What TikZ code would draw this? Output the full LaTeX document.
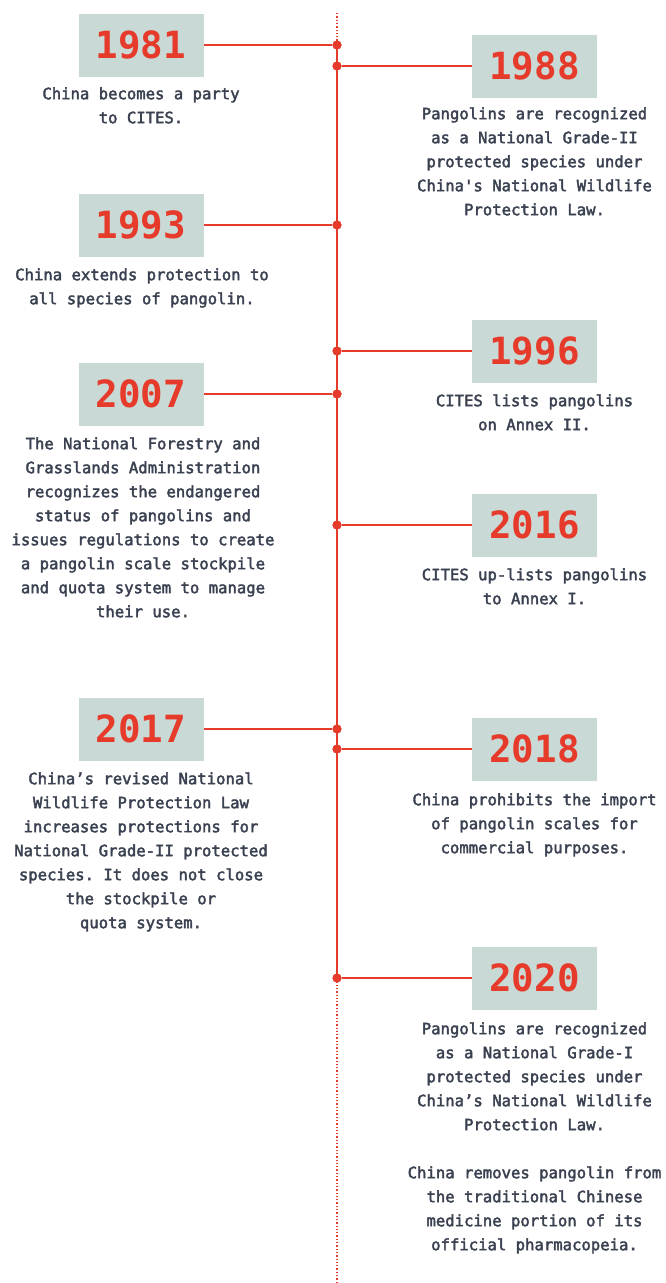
\documentclass[tikz,border=0pt]{standalone}
\usepackage{fontspec}
\newfontfamily\descface[FakeBold=2.5]{DejaVu Sans Mono}
\newfontfamily\yearface{DejaVu Sans Mono Bold}
\definecolor{tred}{HTML}{E63A2B}
\definecolor{boxc}{HTML}{C9DAD6}
\definecolor{ink}{HTML}{3A4150}
\begin{document}
\frenchspacing
\begin{tikzpicture}[x=1pt,y=-1pt,
  yearbox/.style={fill=boxc, minimum width=125pt, minimum height=63pt, inner sep=0pt,
    text=tred, font=\yearface\fontsize{37.5}{40}\selectfont},
  desc/.style={align=center, text=ink, inner sep=0pt, anchor=north,
    font=\descface\fontsize{15.6}{24}\selectfont},
  conn/.style={draw=tred, line width=2pt},
  dotline/.style={draw=tred, line width=1.3pt, dotted},
  tdot/.style={circle, fill=tred, inner sep=0pt, minimum size=9pt}]
\useasboundingbox (0,0) rectangle (666,1283);
\newcommand\fl{\rule{0pt}{16pt}}
% spine ends
\coordinate (top) at (337,13);
\coordinate (bot) at (337,1283);
% dots
\node[tdot] (d1981) at (337,45) {};
\node[tdot] (d1988) at (337,66) {};
\node[tdot] (d1993) at (337,225) {};
\node[tdot] (d1996) at (337,351) {};
\node[tdot] (d2007) at (337,394) {};
\node[tdot] (d2016) at (337,525) {};
\node[tdot] (d2017) at (337,729) {};
\node[tdot] (d2018) at (337,749) {};
\node[tdot] (d2020) at (337,978) {};
% spine
\draw[dotline] (top) -- (d1981.center);
\draw[conn] (d1981.center) -- (d2020.center);
\draw[dotline] (d2020.center) -- (bot);
% boxes
\node[yearbox] (b1981) at (141,45) {1981};
\node[yearbox] (b1988) at (534.5,66) {1988};
\node[yearbox] (b1993) at (141,225) {1993};
\node[yearbox] (b1996) at (534.5,351) {1996};
\node[yearbox] (b2007) at (141,394) {2007};
\node[yearbox] (b2016) at (534.5,525) {2016};
\node[yearbox] (b2017) at (141,729) {2017};
\node[yearbox] (b2018) at (534.5,749) {2018};
\node[yearbox] (b2020) at (534.5,978) {2020};
% connectors
\draw[conn] (b1981.east) -- (d1981);
\draw[conn] (d1988) -- (b1988.west);
\draw[conn] (b1993.east) -- (d1993);
\draw[conn] (d1996) -- (b1996.west);
\draw[conn] (b2007.east) -- (d2007);
\draw[conn] (d2016) -- (b2016.west);
\draw[conn] (b2017.east) -- (d2017);
\draw[conn] (d2018) -- (b2018.west);
\draw[conn] (d2020) -- (b2020.west);
\foreach \n in {d1981,d1988,d1993,d1996,d2007,d2016,d2017,d2018,d2020}
  \node[tdot] at (\n) {};
% descriptions
\node[desc] (t1981) at (141,83) {\fl China becomes a party\\to CITES.};
\node[desc] (t1988) at (534.5,103) {\fl Pangolins are recognized\\as a National Grade-II\\protected species under\\China's National Wildlife\\Protection Law.};
\node[desc] (t1993) at (142,264) {\fl China extends protection to\\all species of pangolin.};
\node[desc] (t1996) at (534.5,390) {\fl CITES lists pangolins\\on Annex II.};
\node[desc] (t2007) at (143,433) {\fl The National Forestry and\\Grasslands Administration\\recognizes the endangered\\status of pangolins and\\issues regulations to create\\a pangolin scale stockpile\\and quota system to manage\\their use.};
\node[desc] (t2016) at (534.5,564) {\fl CITES up-lists pangolins\\to Annex I.};
\node[desc] (t2017) at (141,768) {\fl China’s revised National\\Wildlife Protection Law\\increases protections for\\National Grade-II protected\\species. It does not close\\the stockpile or\\quota system.};
\node[desc] (t2018) at (534.5,789) {\fl China prohibits the import\\of pangolin scales for\\commercial purposes.};
\node[desc] (t2020) at (534.5,1018) {\fl Pangolins are recognized\\as a National Grade-I\\protected species under\\China’s National Wildlife\\Protection Law.\\[24pt]China removes pangolin from\\the traditional Chinese\\medicine portion of its\\official pharmacopeia.};
\end{tikzpicture}
\end{document}
